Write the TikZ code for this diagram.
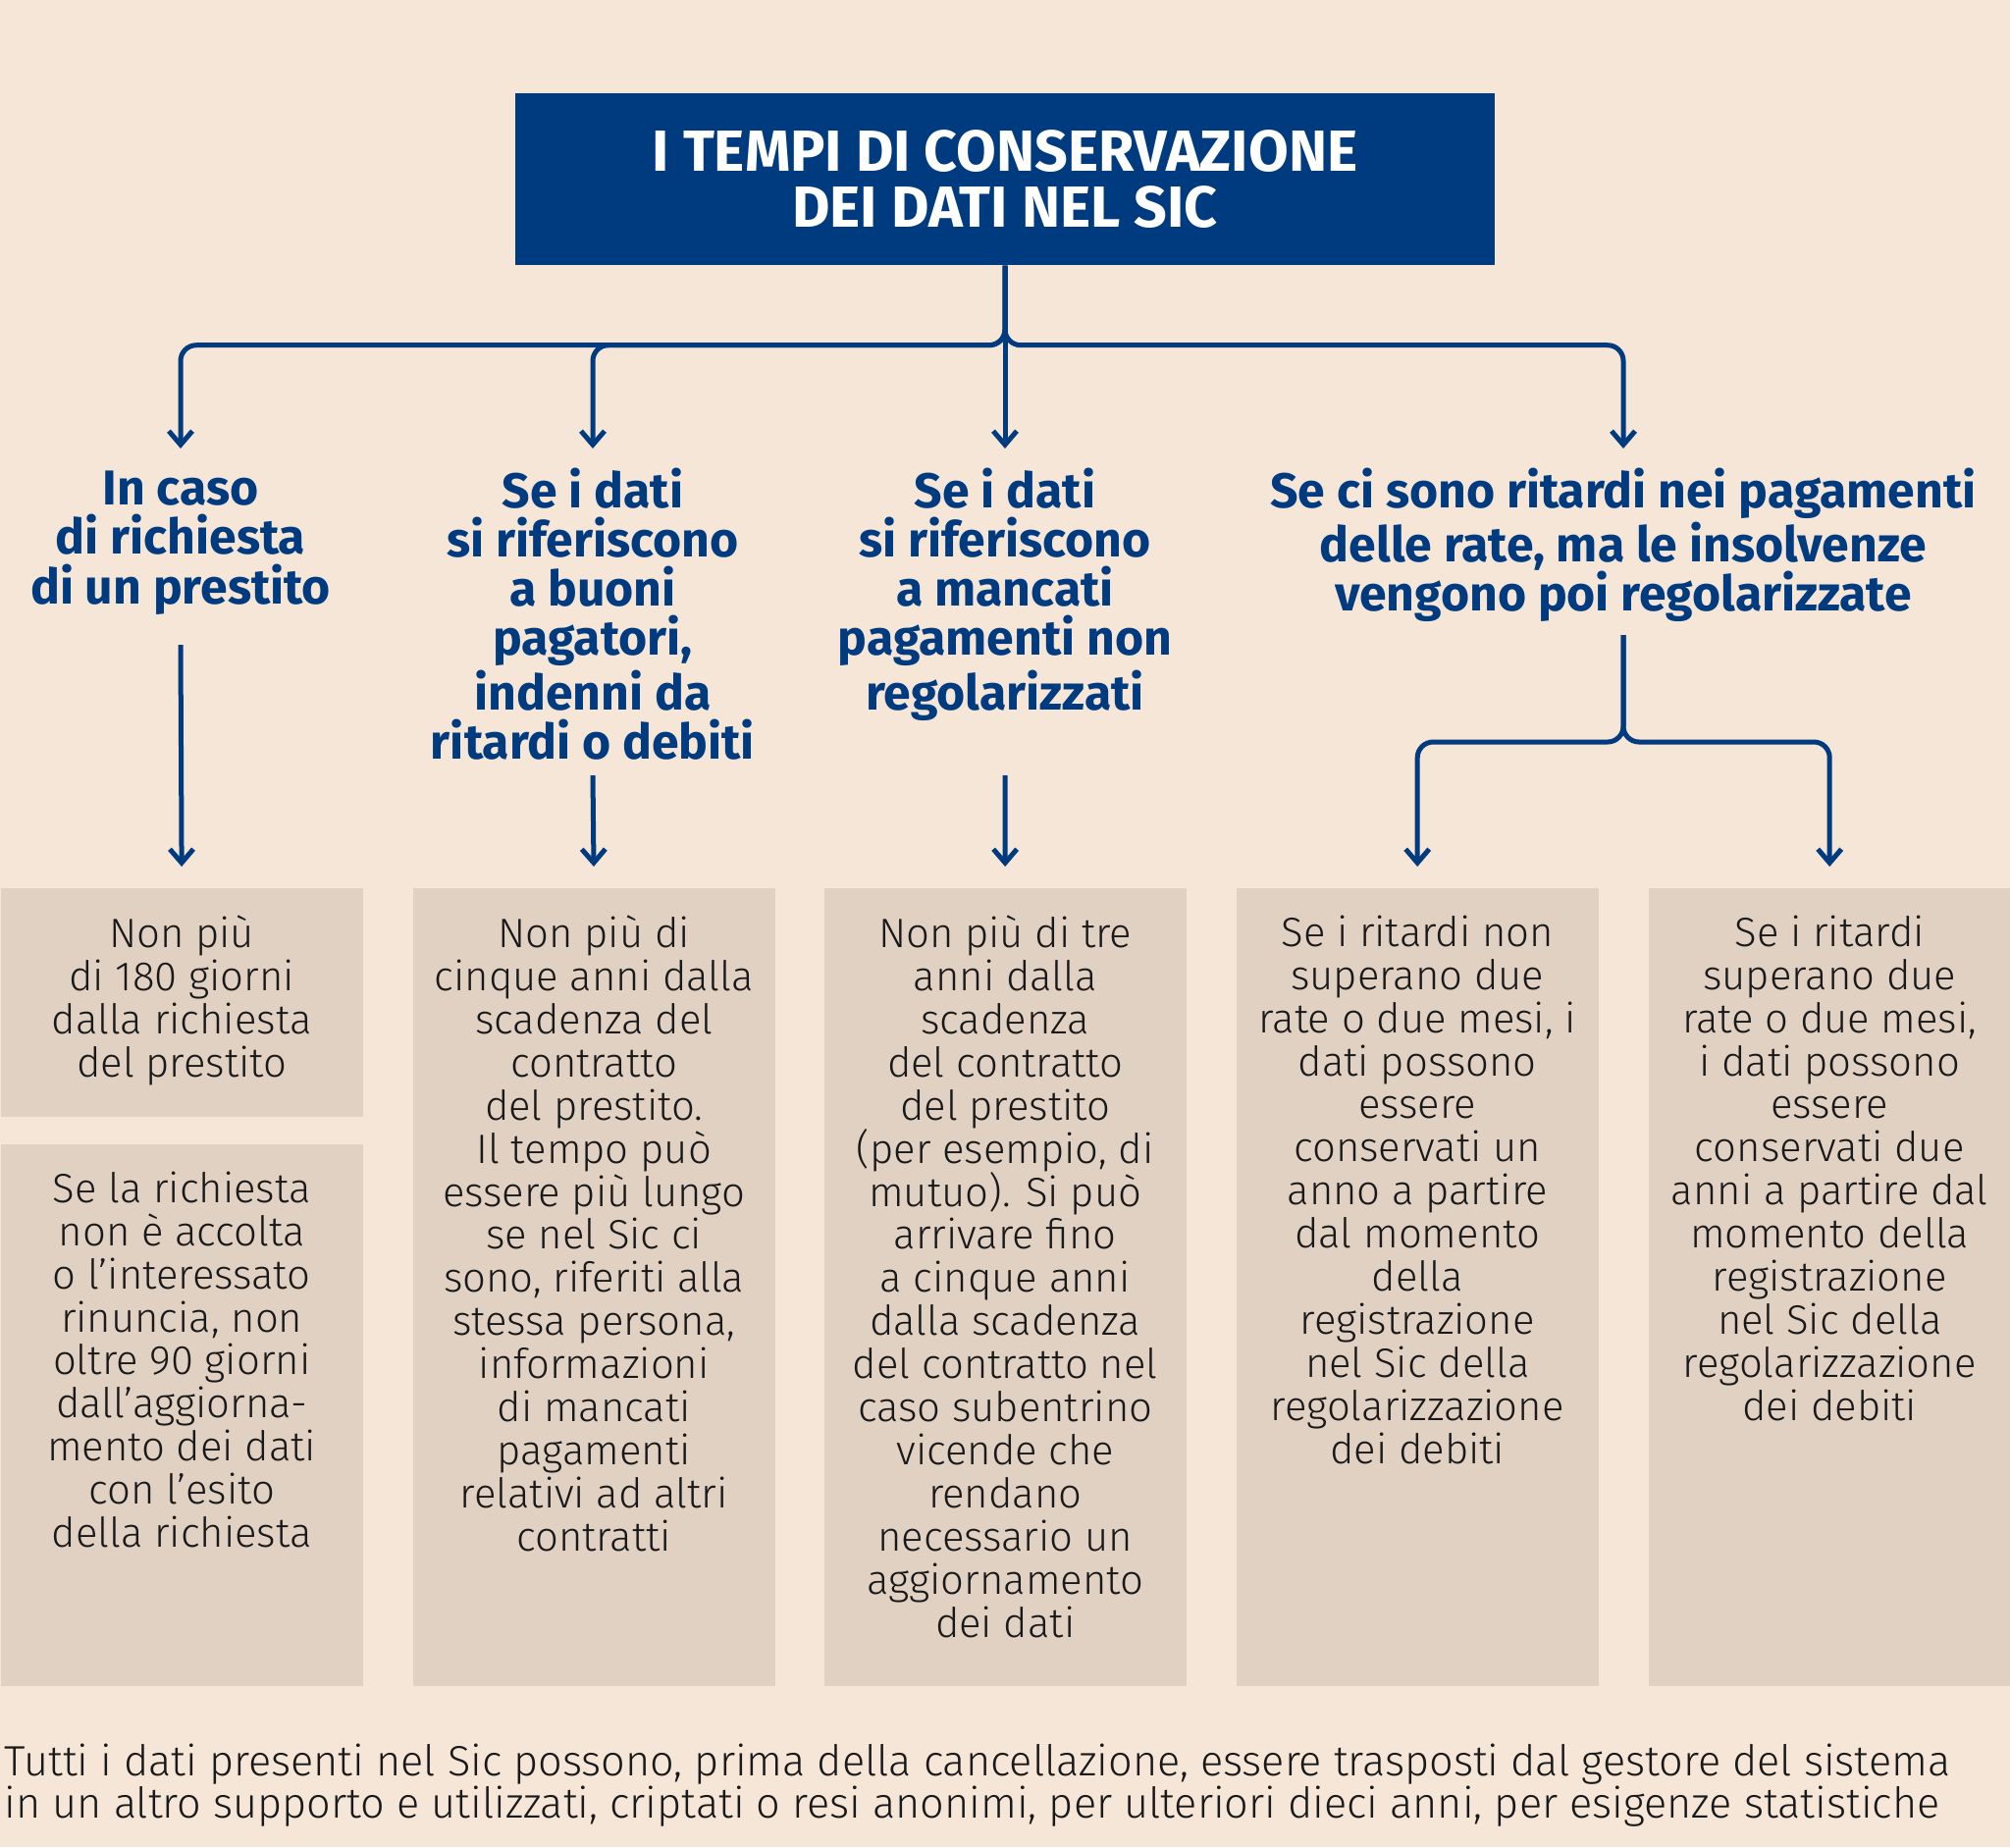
\documentclass[tikz,border=0pt]{standalone}
\usepackage{fontspec}
\setmainfont{Fira Sans}[UprightFont=* Light, BoldFont=* Bold]
\usetikzlibrary{arrows.meta}
\usetikzlibrary{positioning}
\definecolor{sicbg}{RGB}{245,230,216}
\definecolor{sicslab}{RGB}{224,209,195}
\definecolor{sicblue}{RGB}{0,59,128}
\definecolor{sicink}{RGB}{25,25,25}
\newcommand{\hstrut}{\vphantom{dI}}

\begin{document}
\begin{tikzpicture}[x=0.1mm,y=-0.1mm,
    head/.style={anchor=north,align=center,text=sicblue,inner xsep=0pt,inner ysep=1.9mm,
      font=\bfseries\fontsize{14.2}{14.3}\selectfont},
    info/.style={align=center,text=sicink,inner sep=0pt,
      font=\fontsize{11.9}{12.5}\selectfont},
    slab/.style={anchor=north west,fill=sicslab,inner sep=0pt,minimum width=36.9mm},
    conn/.style={draw=sicblue,line width=0.5mm,rounded corners=1.6mm,
      -{Straight Barb[length=1.4mm,width=2.4mm]}}]
    % Background
    \useasboundingbox (0,0) rectangle (2048,1882);
    \fill[sicbg] (0,0) rectangle (2048,1882);
    % Title
    \node[fill=sicblue,text=white,align=center,minimum width=99.8mm,minimum height=17.5mm,
      font=\bfseries\fontsize{16.8}{16.4}\selectfont] (title) at (1024,182.5)
      {I TEMPI DI CONSERVAZIONE\\DEI DATI NEL SIC};
    % Headings
    \node[head] (h1) at (184,457) {\hstrut In caso\\di richiesta\\di un prestito};
    \node[head] (h2) at (604,457) {\hstrut Se i dati\\si riferiscono\\a buoni\\pagatori,\\indenni da\\ritardi o debiti};
    \node[head] (h3) at (1024,457) {\hstrut Se i dati\\si riferiscono\\a mancati\\pagamenti non\\regolarizzati};
    \node[head] (h4) at (1654,457) {\hstrut Se ci sono ritardi nei pagamenti\\delle rate, ma le insolvenze\\vengono poi regolarizzate};
    % Boxes
    \node[slab,minimum height=23.3mm] (b1) at (0,904) {};
    \node[slab,minimum height=55.2mm] (b1x) at (0,1165) {};
    \node[slab,minimum height=81.3mm] (b2) at (420,904) {};
    \node[slab,minimum height=81.3mm] (b3) at (839,904) {};
    \node[slab,minimum height=81.3mm] (b4) at (1259,904) {};
    \node[slab,minimum height=81.3mm] (b5) at (1679,904) {};
    \node[info,below=2.8mm of b1.north] (t1) {Non più\\di 180 giorni\\dalla richiesta\\del prestito};
    \node[info,below=2.8mm of b1x.north] (t1x) {Se la richiesta\\non è accolta\\o l’interessato\\rinuncia, non\\oltre 90 giorni\\dall’aggiorna-\\mento dei dati\\con l’esito\\della richiesta};
    \node[info,below=2.8mm of b2.north] (t2) {Non più di\\cinque anni dalla\\scadenza del\\contratto\\del prestito.\\Il tempo può\\essere più lungo\\se nel Sic ci\\sono, riferiti alla\\stessa persona,\\informazioni\\di mancati\\pagamenti\\relativi ad altri\\contratti};
    \node[info,below=2.8mm of b3.north] (t3) {Non più di tre\\anni dalla\\scadenza\\del contratto\\del prestito\\(per esempio, di\\mutuo). Si può\\arrivare fino\\a cinque anni\\dalla scadenza\\del contratto nel\\caso subentrino\\vicende che\\rendano\\necessario un\\aggiornamento\\dei dati};
    \node[info,below=2.8mm of b4.north] (t4) {Se i ritardi non\\superano due\\rate o due mesi, i\\dati possono\\essere\\conservati un\\anno a partire\\dal momento\\della\\registrazione\\nel Sic della\\regolarizzazione\\dei debiti};
    \node[info,below=2.8mm of b5.north] (t5) {Se i ritardi\\superano due\\rate o due mesi,\\i dati possono\\essere\\conservati due\\anni a partire dal\\momento della\\registrazione\\nel Sic della\\regolarizzazione\\dei debiti};
    % Note
    \node[info,anchor=north west,align=left,font=\fontsize{12.3}{12.3}\selectfont] (note) at (4,1776)
      {Tutti i dati presenti nel Sic possono, prima della cancellazione, essere trasposti dal gestore del sistema\\in un altro supporto e utilizzati, criptati o resi anonimi, per ulteriori dieci anni, per esigenze statistiche};
    % Arrows
    \draw[conn] (title.south) -- ++(0,81) -| (h1.north);
    \draw[conn] (title.south) -- ++(0,81) -| (h2.north);
    \draw[conn] (title.south) -- (h3.north);
    \draw[conn] (title.south) -- ++(0,81) -| (h4.north);
    \coordinate (s1) at (184,657);
    \coordinate (s2) at (604,790);
    \coordinate (s3) at (1024,790);
    \coordinate (s4) at (1654,647);
    \draw[conn,shorten >=2.1mm] (s1) -- (b1.north);
    \draw[conn,shorten >=2.1mm] (s2) -- (b2.north);
    \draw[conn,shorten >=2.1mm] (s3) -- (b3.north);
    \draw[conn,shorten >=2.1mm] (s4) -- ++(0,109) -| (b4.north);
    \draw[conn,shorten >=2.1mm] (s4) -- ++(0,109) -| (b5.north);
  \end{tikzpicture}
\end{document}
